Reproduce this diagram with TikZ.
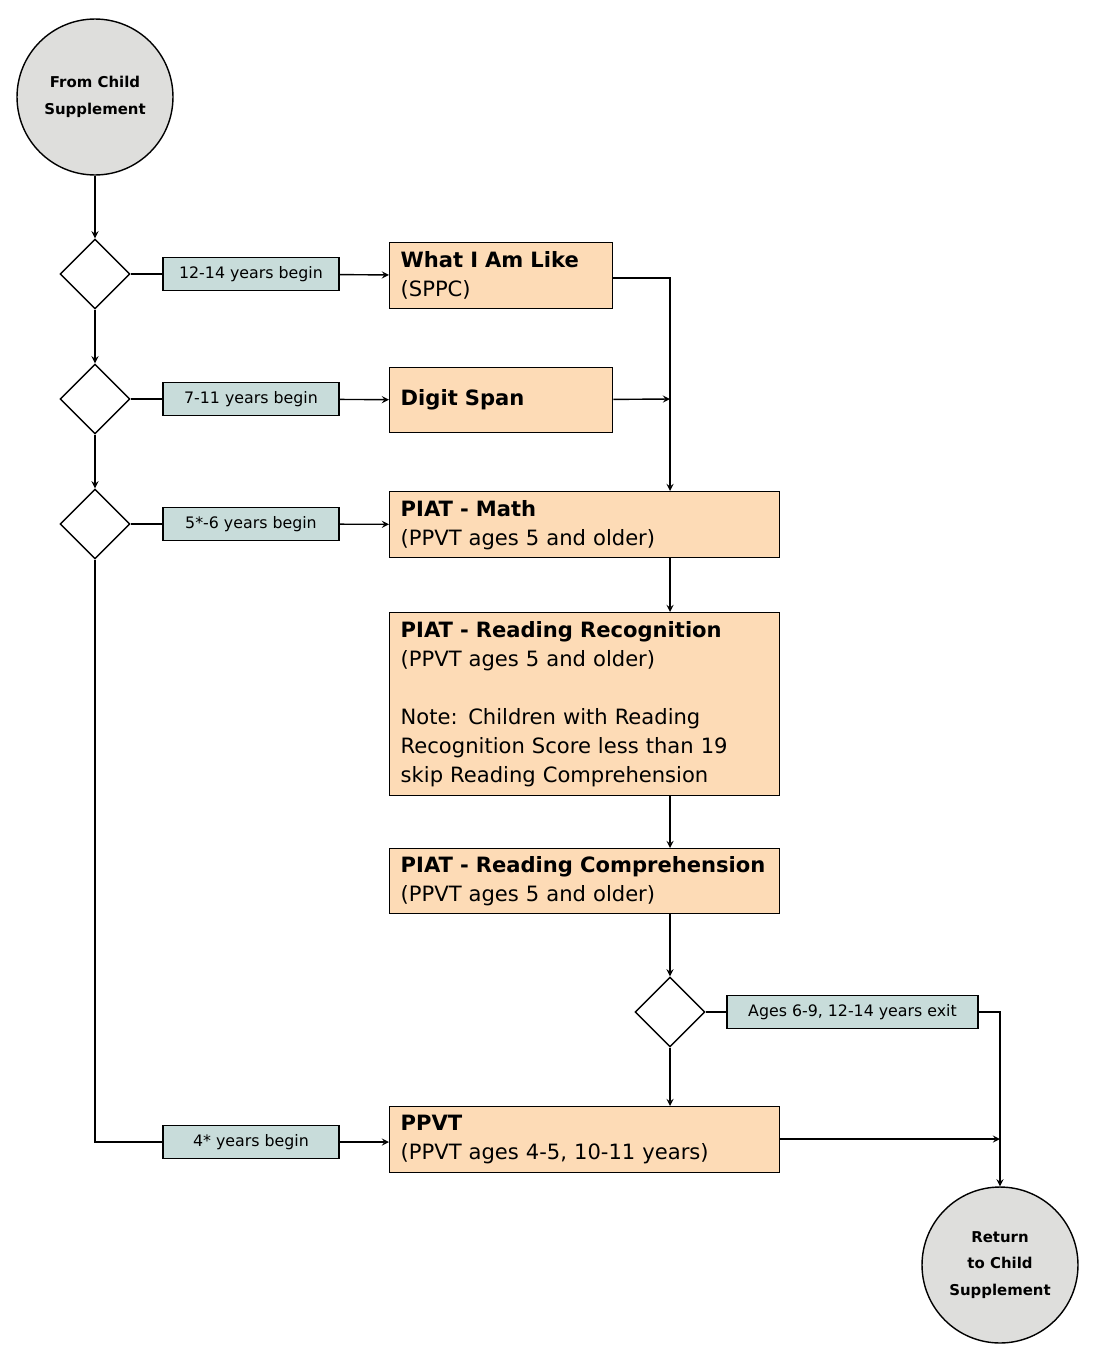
\documentclass[tikz,border=0pt]{standalone}
\usepackage{fontspec}
\setmainfont{DejaVu Sans}
\usetikzlibrary{shapes.geometric}
\definecolor{peach}{HTML}{FDDBB6}
\definecolor{tagc}{HTML}{C8DCDA}
\definecolor{disc}{HTML}{DEDEDC}
\begin{document}
\begin{tikzpicture}[x=0.02cm,y=-0.02cm,>=stealth,thick]
		\tikzset{
			term/.style={circle,draw,fill=disc,minimum size=3.12cm,align=center,font=\fontsize{8.5}{15}\selectfont\bfseries},
			dec/.style={diamond,draw,fill=white,minimum size=1.4cm,inner sep=0pt},
			tag/.style={draw,fill=tagc,minimum width=3.52cm,minimum height=0.66cm,inner sep=0pt,font=\fontsize{9}{11}\selectfont},
			step/.style={draw,fill=peach,anchor=north west,inner sep=0pt,minimum height=#1,align=left,font=\fontsize{12}{16.5}\selectfont},
			short/.style={step=#1,text width=4.02cm,minimum width=4.46cm},
			wide/.style={step=#1,text width=7.36cm,minimum width=7.8cm},
		}
		\useasboundingbox (0,0) rectangle (1097,1366);
		\node[term] (c1) at (95,97) {From Child\\Supplement};
		\node[term] (c2) at (1000,1265) {Return\\to Child\\Supplement};
		\node[dec] (d1) at (95,274) {};
		\node[dec] (d2) at (95,399) {};
		\node[dec] (d3) at (95,524) {};
		\node[dec] (d4) at (670,1012) {};
		\node[tag] (t1) at (251,274) {12-14 years begin};
		\node[tag] (t2) at (251,399) {7-11 years begin};
		\node[tag] (t3) at (251,524) {5*-6 years begin};
		\node[tag] (t4) at (251,1142) {4* years begin};
		\node[tag,minimum width=5.02cm] (t5) at (852.5,1012) {Ages 6-9, 12-14 years exit};
		\node[short=1.32cm] (b1) at (389,242) {\textbf{What I Am Like}\\(SPPC)};
		\node[short=1.3cm] (b2) at (389,367) {\textbf{Digit Span}};
		\node[wide=1.32cm] (b3) at (389,491) {\textbf{PIAT - Math}\\(PPVT ages 5 and older)};
		\node[wide=3.66cm] (b4) at (389,612) {\textbf{PIAT - Reading Recognition}\\(PPVT ages 5 and older)\\[16.5pt]Note: Children with Reading\\Recognition Score less than 19\\skip Reading Comprehension};
		\node[wide=1.3cm] (b5) at (389,848) {\textbf{PIAT - Reading Comprehension}\\(PPVT ages 5 and older)};
		\node[wide=1.32cm] (b6) at (389,1106) {\textbf{PPVT}\\(PPVT ages 4-5, 10-11 years)};
		\coordinate (j1) at (670,399);
		\coordinate (j2) at (1000,1139);
		\draw[->] (c1) -- (d1);
		\draw[->] (d1) -- (d2);
		\draw[->] (d2) -- (d3);
		\draw (d1) -- (t1); \draw[->] (t1) -- (b1);
		\draw (d2) -- (t2); \draw[->] (t2) -- (b2);
		\draw (d3) -- (t3); \draw[->] (t3) -- (b3);
		\draw (d3) |- (t4); \draw[->] (t4) -- (b6.west |- t4);
		\draw[->] (b1.east |- 0,278) -| (b3.north -| j1);
		\draw[->] (b2) -- (j1);
		\draw[->] (b3.south -| j1) -- (b4.north -| j1);
		\draw[->] (b4.south -| j1) -- (b5.north -| j1);
		\draw[->] (b5.south -| j1) -- (d4);
		\draw[->] (d4) -- (b6.north -| d4);
		\draw (d4) -- (t5);
		\draw[->] (t5) -| (c2);
		\draw[->] (b6.east |- j2) -- (j2);
	\end{tikzpicture}
\end{document}
